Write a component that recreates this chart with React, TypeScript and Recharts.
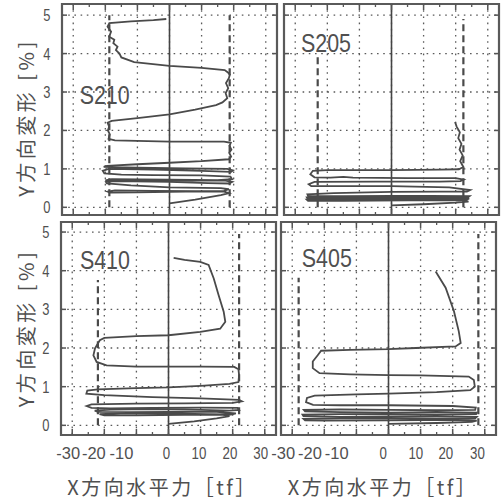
import React from "react";
import {
  LineChart,
  Line,
  XAxis,
  YAxis,
  CartesianGrid,
  ReferenceLine,
  ReferenceArea,
  ReferenceDot,
} from "recharts";

type Pt = [number, number];

// axis ticks
const xTicks = [-30, -20, -10, 0, 10, 20, 30];
const xMinorTicks = [-25, -15, -5, 5, 15, 25];
const yTicks = [0, 1, 2, 3, 4, 5];

// hysteresis paths, [x force tf, y deformation %]
const S210: Pt[] = [
  [0, 0.1], [8, 0.2], [16, 0.32], [18.5, 0.37], [17, 0.41], [5, 0.41], [-10, 0.39],
  [-18.5, 0.38], [-19.3, 0.41], [-17, 0.44], [-5, 0.43], [8, 0.42], [17, 0.43],
  [18.5, 0.47], [16, 0.5], [0, 0.52], [-12, 0.57], [-19.5, 0.62], [-19.8, 0.66],
  [-17, 0.68], [0, 0.66], [12, 0.63], [18.5, 0.62], [19.5, 0.66], [17, 0.7], [0, 0.69],
  [-15, 0.68], [-20, 0.7], [-18, 0.73], [0, 0.72], [15, 0.71], [19.5, 0.73], [19, 0.8],
  [10, 0.83], [-5, 0.84], [-15, 0.85], [-20.3, 0.88], [-20.8, 0.95], [-19, 1.0],
  [-5, 0.98], [10, 0.95], [19.2, 0.92], [19.8, 0.96], [18, 1.0], [5, 1.01], [-10, 1.03],
  [-20.5, 1.05], [-19.5, 1.08], [-10, 1.12], [0, 1.16], [10, 1.2], [18.5, 1.25],
  [19.2, 1.32], [18.6, 1.42], [19.3, 1.5], [18.7, 1.6], [19.1, 1.68], [17, 1.71],
  [0, 1.71], [-17, 1.74], [-19, 1.78], [-18.6, 1.9], [-19.2, 2.0], [-18.8, 2.1],
  [-19.3, 2.2], [-18, 2.25], [-10, 2.32], [0, 2.42], [8, 2.54], [14.5, 2.66],
  [16.5, 2.73], [18, 2.84], [17.5, 2.97], [18.3, 3.1], [17.6, 3.23], [18.5, 3.36],
  [18.8, 3.45], [18.2, 3.51], [17.2, 3.57], [10, 3.63], [0, 3.68], [-11, 3.78],
  [-15, 3.9], [-15.6, 4.0], [-16.7, 4.09], [-16.2, 4.18], [-17.5, 4.27], [-17.2, 4.36],
  [-18.8, 4.44], [-18.2, 4.57], [-19.3, 4.7], [-18.75, 4.79], [-12, 4.84], [-5, 4.87],
  [-1, 4.9],
];

const S205: Pt[] = [
  [0, 0.05], [10, 0.08], [20, 0.12], [24, 0.15], [22, 0.18], [5, 0.18], [-15, 0.17],
  [-26, 0.17], [-26.4, 0.2], [-18, 0.21], [0, 0.21], [15, 0.2], [23.5, 0.2], [24.2, 0.23],
  [12, 0.24], [0, 0.24], [-15, 0.23], [-26.2, 0.23], [-26.4, 0.26], [-15, 0.27], [0, 0.27],
  [15, 0.26], [23.8, 0.26], [24.3, 0.29], [12, 0.3], [0, 0.3], [-15, 0.29], [-26, 0.3],
  [-26.2, 0.34], [-18, 0.37], [0, 0.4], [15, 0.41], [23.5, 0.41], [24.5, 0.45], [18, 0.52],
  [0, 0.55], [-15, 0.55], [-25, 0.55], [-25.8, 0.6], [-24, 0.66], [-5, 0.67], [15, 0.67],
  [21.5, 0.68], [22.5, 0.72], [20, 0.76], [5, 0.76], [-12, 0.77], [-15, 0.79], [-19, 0.77],
  [-24, 0.78], [-25.3, 0.86], [-24.5, 0.95], [-20, 0.97], [0, 0.97], [15, 0.98], [21, 0.99],
  [22.4, 1.05], [21.4, 1.2], [22.2, 1.35], [21.2, 1.5], [21.8, 1.65], [20.8, 1.8],
  [21.3, 1.95], [20.3, 2.1], [19.8, 2.22],
];

const S410: Pt[] = [
  [0, 0.04], [8, 0.1], [15, 0.18], [19, 0.24], [17, 0.27], [5, 0.27], [-10, 0.26],
  [-20, 0.26], [-21.5, 0.29], [-15, 0.31], [0, 0.31], [12, 0.29], [19.5, 0.28], [21, 0.31],
  [15, 0.35], [0, 0.35], [-12, 0.34], [-22, 0.35], [-23, 0.38], [-18, 0.41], [-5, 0.42],
  [10, 0.4], [19, 0.38], [22, 0.4], [21.5, 0.45], [10, 0.46], [-5, 0.45], [-18, 0.44],
  [-24, 0.45], [-25.5, 0.5], [-24, 0.54], [-10, 0.56], [5, 0.57], [20, 0.58], [22.9, 0.62],
  [22, 0.66], [10, 0.7], [-5, 0.73], [-20, 0.78], [-25.6, 0.82], [-25.3, 0.9], [-22, 0.93],
  [-10, 0.96], [0, 0.98], [10, 1.02], [19, 1.07], [21.8, 1.12], [22, 1.3], [21.8, 1.45],
  [20.5, 1.51], [10, 1.52], [0, 1.52], [-10, 1.52], [-19.3, 1.55], [-22.4, 1.64],
  [-23.4, 1.81], [-22.9, 1.99], [-21.4, 2.2], [-20, 2.26], [-10, 2.31], [0, 2.33],
  [9.9, 2.42], [16.1, 2.5], [17.7, 2.68], [17.2, 2.94], [15.6, 3.37], [14.1, 3.8],
  [12.5, 4.15], [9.9, 4.23], [5, 4.28], [1.6, 4.33],
];

const S405: Pt[] = [
  [0, 0.04], [15, 0.06], [26, 0.09], [27.5, 0.12], [20, 0.14], [0, 0.13], [-20, 0.12],
  [-26, 0.13], [-26.5, 0.17], [-15, 0.18], [0, 0.18], [15, 0.17], [27, 0.18], [27.5, 0.22],
  [15, 0.23], [0, 0.22], [-15, 0.22], [-26.5, 0.24], [-26.8, 0.28], [-15, 0.29], [0, 0.28],
  [15, 0.28], [27.3, 0.29], [27.5, 0.33], [15, 0.34], [0, 0.33], [-15, 0.34], [-26, 0.36],
  [-26.4, 0.4], [-15, 0.41], [0, 0.4], [15, 0.39], [27, 0.4], [27.2, 0.46], [20, 0.5],
  [0, 0.52], [-15, 0.52], [-23.5, 0.53], [-25.7, 0.6], [-25.4, 0.71], [-23, 0.77],
  [-10, 0.8], [0, 0.82], [15, 0.86], [25.5, 0.91], [26.9, 1.0], [26.6, 1.17], [25, 1.26],
  [10, 1.29], [0, 1.3], [-12, 1.32], [-21.5, 1.35], [-23.6, 1.48], [-23.6, 1.65],
  [-22, 1.82], [-21, 1.93], [-12, 1.95], [0, 1.97], [8.5, 2.0], [20.9, 2.04], [22.5, 2.13],
  [21.9, 2.43], [20.4, 2.95], [17.8, 3.56], [14.7, 3.98],
];

// dashed capacity lines: [x, yFrom, yTo]
const G210 = [[-18.75, 0, 5], [18.75, 0, 5]];
const G205 = [[-23, 0, 3.96], [22.4, 0, 4.9]];
const G410 = [[-22, 0, 3.76], [22, 0, 4.95]];
const G405 = [[-28, 0, 3.82], [28, 0, 4.95]];

const X_DOMAIN: [number, number] = [-33.5, 33.5];
const PLOT_W = 215;
const PAD = 4;

const INK = "#4a4a4a";
const TEXT = "#505050";
const SANS = "'Liberation Sans', Arial, sans-serif";
const CJK = "'Noto Sans CJK JP', 'Noto Sans CJK SC', sans-serif";

// the print's tick labels drift left of their ticks (per tick index, px)
const LEFT_SHIFT = [-4, -10.5, -15, -2, -1.6, -2.7, -4];
const RIGHT_SHIFT = [-9, -14.3, -19.7, -5.2, -4.8, -6.9, -7.3];

// the print uses a condensed face; squeeze a regular one to the same width
function squeezed(s: string, digitW: number) {
  const digits = s.replace("-", "").length;
  return digits * digitW + (s.startsWith("-") ? 9 : 0);
}

function renderXTick(p: any, shifts: number[]) {
  const v = p.payload.value;
  const s = String(v);
  const i = xTicks.indexOf(v);
  const dx = shifts[i] ?? 0;
  return (
    <text
      x={p.x + dx}
      y={p.y}
      dy="0.71em"
      textAnchor="middle"
      fill={TEXT}
      fontSize={17}
      fontFamily={SANS}
      textLength={squeezed(s, 7.4)}
      lengthAdjust="spacingAndGlyphs"
    >
      {s}
    </text>
  );
}

function renderYTick(p: any) {
  const s = String(p.payload.value);
  return (
    <text
      x={p.x}
      y={p.y}
      dy="0.355em"
      textAnchor="end"
      fill={TEXT}
      fontSize={17}
      fontFamily={SANS}
      textLength={7.2}
      lengthAdjust="spacingAndGlyphs"
    >
      {s}
    </text>
  );
}

function Title({ tx, ty, rot, caption, spacing }: any) {
  return (
    <text
      x={tx}
      y={ty}
      textAnchor="middle"
      dominantBaseline="central"
      transform={rot ? `rotate(${rot} ${tx} ${ty})` : undefined}
      fill={TEXT}
      fontSize={20}
      fontFamily={CJK}
      letterSpacing={spacing}
    >
      {caption}
    </text>
  );
}

function Tag({ viewBox, caption }: any) {
  const x = viewBox.x + viewBox.width / 2;
  const y = viewBox.y + viewBox.height / 2;
  return (
    <text
      x={x}
      y={y + 9.5}
      fill={TEXT}
      fontSize={26}
      fontFamily={SANS}
      textLength={50}
      lengthAdjust="spacingAndGlyphs"
    >
      {caption}
    </text>
  );
}

type PanelProps = {
  name: string;
  path: Pt[];
  guides: number[][];
  tag: [number, number];
  left: number;
  top: number;
  plotH: number;
  yDomain: [number, number];
  yAxisW: number;
  padL: number;
  xAxisH: number;
  tickShifts: number[];
  yTitle?: [number, number];
  xTitle?: [number, number];
};

function Panel(p: PanelProps) {
  const xPerPx = (X_DOMAIN[1] - X_DOMAIN[0]) / PLOT_W;
  const yPerPx = (p.yDomain[1] - p.yDomain[0]) / p.plotH;
  const [x0, x1] = X_DOMAIN;
  const [y0, y1] = p.yDomain;
  const chartLeft = p.left - p.padL - p.yAxisW;
  const chartTop = p.top - PAD;
  const width = p.padL + p.yAxisW + PLOT_W + PAD;
  const height = PAD + p.plotH + p.xAxisH + PAD;
  const rows = p.path.map(([x, y]) => ({ x, y }));

  return (
    <div style={{ position: "absolute", left: chartLeft, top: chartTop }}>
      <LineChart
        width={width}
        height={height}
        margin={{ top: PAD, right: PAD, bottom: PAD, left: p.padL }}
      >
        <CartesianGrid stroke="#5a5a5a" strokeWidth={1.3} strokeDasharray="1.6 4.6" />
        <XAxis
          type="number"
          dataKey="x"
          domain={X_DOMAIN}
          allowDataOverflow
          ticks={xTicks}
          interval={0}
          hide={p.xAxisH === 0}
          height={p.xAxisH}
          axisLine={false}
          tickLine={false}
          tickMargin={6}
          tick={(t: any) => renderXTick(t, p.tickShifts)}
          label={
            p.xTitle ? (
              <Title tx={p.xTitle[0]} ty={p.xTitle[1]} caption="X方向水平力［tf］" spacing={2.5} />
            ) : undefined
          }
        />
        <YAxis
          type="number"
          domain={p.yDomain}
          allowDataOverflow
          ticks={yTicks}
          interval={0}
          hide={p.yAxisW === 0}
          width={p.yAxisW}
          axisLine={false}
          tickLine={false}
          tickMargin={5.5}
          tick={renderYTick}
          label={
            p.yTitle ? (
              <Title tx={p.yTitle[0]} ty={p.yTitle[1]} rot={-90} caption="Y方向変形 [%]" spacing={3.5} />
            ) : undefined
          }
        />

        <ReferenceLine x={0} stroke="#444" strokeWidth={1.6} />

        {p.guides.map(([gx, ga, gb], i) => (
          <ReferenceLine
            key={`g${i}`}
            segment={[{ x: gx, y: ga }, { x: gx, y: gb }]}
            stroke="#4a4a4a"
            strokeWidth={2.2}
            strokeDasharray="7 4"
          />
        ))}

        {xTicks.map((t) => (
          <ReferenceLine
            key={`tb${t}`}
            segment={[{ x: t, y: y0 }, { x: t, y: y0 + 6 * yPerPx }]}
            stroke="#555"
            strokeWidth={1.5}
          />
        ))}
        {xTicks.map((t) => (
          <ReferenceLine
            key={`tt${t}`}
            segment={[{ x: t, y: y1 }, { x: t, y: y1 - 6 * yPerPx }]}
            stroke="#555"
            strokeWidth={1.5}
          />
        ))}
        {xMinorTicks.map((t) => (
          <ReferenceLine
            key={`mb${t}`}
            segment={[{ x: t, y: y0 }, { x: t, y: y0 + 3 * yPerPx }]}
            stroke="#555"
            strokeWidth={1.3}
          />
        ))}
        {xMinorTicks.map((t) => (
          <ReferenceLine
            key={`mt${t}`}
            segment={[{ x: t, y: y1 }, { x: t, y: y1 - 3 * yPerPx }]}
            stroke="#555"
            strokeWidth={1.3}
          />
        ))}
        {yTicks.map((t) => (
          <ReferenceLine
            key={`tl${t}`}
            segment={[{ x: x0, y: t }, { x: x0 + 5 * xPerPx, y: t }]}
            stroke="#555"
            strokeWidth={1.5}
          />
        ))}
        {yTicks.map((t) => (
          <ReferenceLine
            key={`tr${t}`}
            segment={[{ x: x1, y: t }, { x: x1 - 5 * xPerPx, y: t }]}
            stroke="#555"
            strokeWidth={1.5}
          />
        ))}

        <ReferenceArea
          x1={x0}
          x2={x1}
          y1={y0}
          y2={y1}
          fill="none"
          fillOpacity={0}
          stroke="#5a5a5a"
          strokeWidth={2.2}
        />

        <ReferenceDot
          x={p.tag[0]}
          y={p.tag[1]}
          r={1}
          fill="none"
          stroke="none"
          label={<Tag caption={p.name} />}
        />

        <Line
          data={rows}
          dataKey="y"
          type="linear"
          stroke={INK}
          strokeWidth={1.8}
          dot={false}
          activeDot={false}
          isAnimationActive={false}
        />
      </LineChart>
    </div>
  );
}

export default function App() {
  return (
    <div
      style={{
        position: "absolute",
        left: 0,
        top: 0,
        width: 502,
        height: 502,
        background: "#fff",
        overflow: "hidden",
      }}
    >
      <Panel
        name="S210"
        path={S210}
        guides={G210}
        tag={[-28, 2.94]}
        left={62}
        top={4}
        plotH={211}
        yDomain={[-0.2, 5.29]}
        yAxisW={58}
        padL={4}
        xAxisH={0}
        tickShifts={LEFT_SHIFT}
        yTitle={[25, 117.5]}
      />
      <Panel
        name="S205"
        path={S205}
        guides={G205}
        tag={[-28.2, 4.3]}
        left={284}
        top={4}
        plotH={211}
        yDomain={[-0.2, 5.29]}
        yAxisW={0}
        padL={20}
        xAxisH={0}
        tickShifts={RIGHT_SHIFT}
      />
      <Panel
        name="S410"
        path={S410}
        guides={G410}
        tag={[-27.6, 4.29]}
        left={61}
        top={222}
        plotH={213}
        yDomain={[-0.25, 5.26]}
        yAxisW={57}
        padL={4}
        xAxisH={63}
        tickShifts={LEFT_SHIFT}
        yTitle={[25, 110]}
        xTitle={[162.5, 268]}
      />
      <Panel
        name="S405"
        path={S405}
        guides={G405}
        tag={[-27, 4.33]}
        left={281}
        top={222}
        plotH={213}
        yDomain={[-0.25, 5.26]}
        yAxisW={0}
        padL={20}
        xAxisH={63}
        tickShifts={RIGHT_SHIFT}
        xTitle={[122, 268]}
      />
    </div>
  );
}
